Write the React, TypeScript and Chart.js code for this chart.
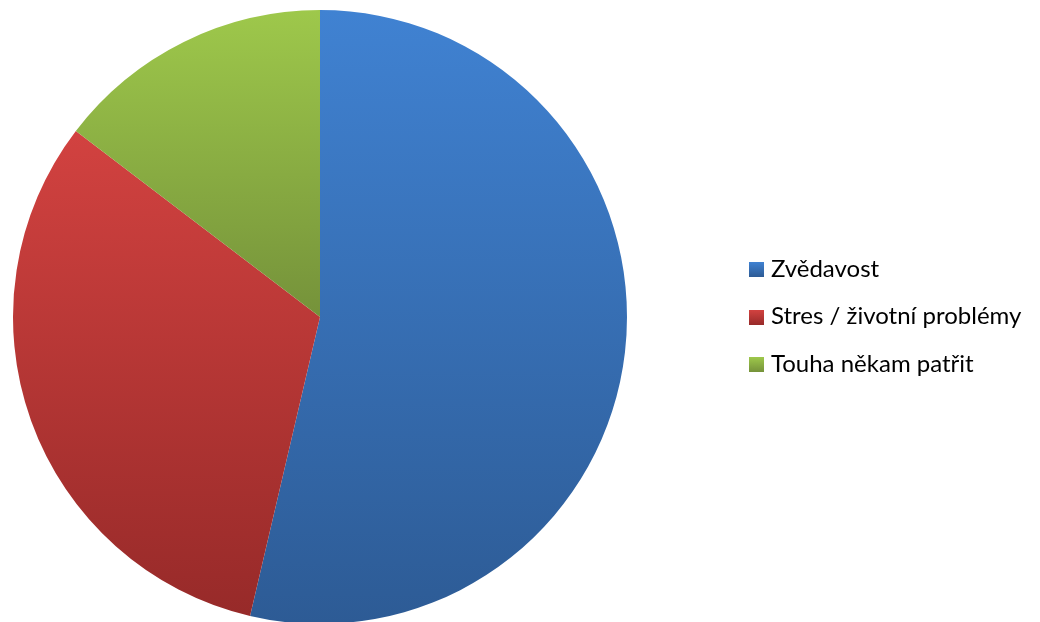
import React, { useEffect, useRef } from "react";
import { Chart, registerables } from "chart.js";

Chart.register(...registerables);

const categories = ["Zvědavost", "Stres / životní problémy", "Touha někam patřit"];
const values = [22, 13, 6];
const topColors = ["#4082d2", "#d24240", "#9ec84b"];
const bottomColors = ["#2d5b95", "#972a29", "#75923a"];

function sliceBounds(ctx: any, index: number) {
  const chart = ctx.chart;
  const area = chart.chartArea;
  if (!area) return null;
  const cx = (area.left + area.right) / 2;
  const cy = (area.top + area.bottom) / 2;
  const r = Math.min(area.right - area.left, area.bottom - area.top) / 2;
  const total = values.reduce((a, b) => a + b, 0);
  let start = -Math.PI / 2;
  for (let i = 0; i < index; i++) start += (values[i] / total) * Math.PI * 2;
  const end = start + (values[index] / total) * Math.PI * 2;
  const ys = [cy, cy + r * Math.sin(start), cy + r * Math.sin(end)];
  for (let k = -4; k <= 4; k++) {
    const a = (k * Math.PI) / 2 + Math.PI / 2;
    if (a > start && a < end) ys.push(cy + r * Math.sin(a));
  }
  return { top: Math.min(...ys), bottom: Math.max(...ys) };
}

export default function App() {
  const ref = useRef<HTMLCanvasElement>(null);
  useEffect(() => {
    const chart = new Chart(ref.current!, {
      type: "pie",
      data: {
        labels: categories,
        datasets: [
          {
            data: values,
            borderWidth: 0,
            backgroundColor: (ctx: any) => {
              const b = sliceBounds(ctx, ctx.dataIndex);
              if (!b) return topColors[ctx.dataIndex];
              const g = ctx.chart.ctx.createLinearGradient(0, b.top, 0, b.bottom);
              g.addColorStop(0, topColors[ctx.dataIndex]);
              g.addColorStop(1, bottomColors[ctx.dataIndex]);
              return g;
            },
          },
        ],
      },
      options: {
        animation: false,
        responsive: false,
        layout: { padding: { left: 13, right: 413, top: 10, bottom: 16 } },
        plugins: { legend: { display: false }, tooltip: { enabled: false } },
      },
    });
    return () => chart.destroy();
  }, []);
  return (
    <div style={{ position: "absolute", left: 0, top: 0, width: 1040, height: 622, background: "#fff", overflow: "hidden" }}>
      <canvas ref={ref} width={1040} height={640} style={{ position: "absolute", left: 0, top: 0 }} />
      {categories.map((c, i) => (
        <React.Fragment key={c}>
          <div
            style={{
              position: "absolute",
              left: 749,
              top: 262 + i * 47.7,
              width: 15,
              height: 15,
              background: `linear-gradient(${topColors[i]}, ${bottomColors[i]})`,
            }}
          />
          <div
            style={{
              position: "absolute",
              left: 771,
              top: 252.5 + i * 47.7,
              fontFamily: "Lato, 'Open Sans', sans-serif",
              fontSize: 24,
              lineHeight: "normal",
              whiteSpace: "nowrap",
              color: "#000",
            }}
          >
            {c}
          </div>
        </React.Fragment>
      ))}
    </div>
  );
}
